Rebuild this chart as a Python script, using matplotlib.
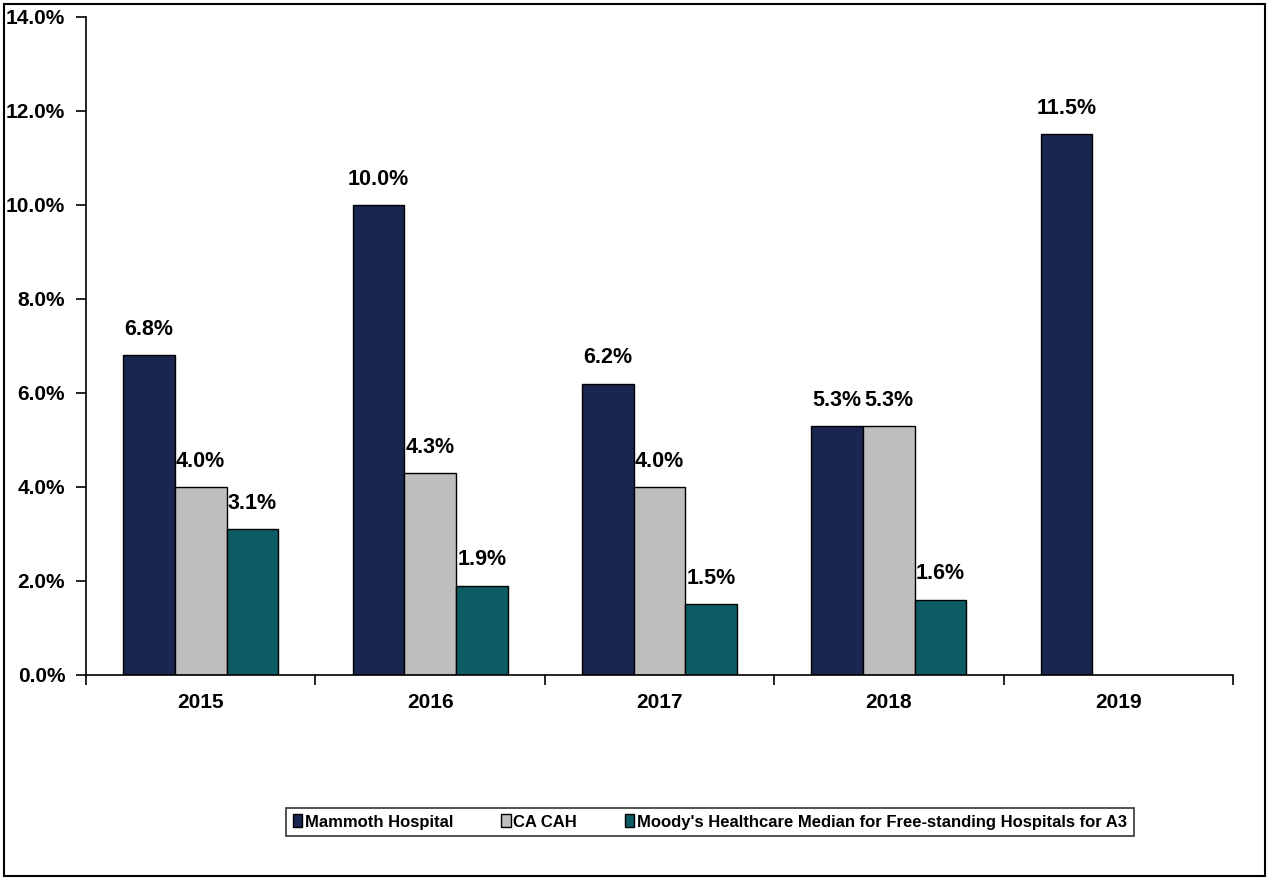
import numpy as np
import matplotlib.pyplot as plt
from matplotlib.patches import Rectangle

plt.rcParams['font.family'] = ['Liberation Sans', 'DejaVu Sans']
plt.rcParams['font.weight'] = 'bold'

# Data
jaren = ['2015', '2016', '2017', '2018', '2019']
reeks_namen = ['Mammoth Hospital', 'CA CAH',
               "Moody's Healthcare Median for Free-standing Hospitals for A3"]
mammoth = [6.8, 10.0, 6.2, 5.3, 11.5]
ca_cah = [4.0, 4.3, 4.0, 5.3, np.nan]
moodys = [3.1, 1.9, 1.5, 1.6, np.nan]
kleuren = ['#1a2550', '#bfbebc', '#0e5c63']

fig = plt.figure(figsize=(12.69, 8.8), dpi=100)
ax = fig.add_axes([0.0678, 0.233, 0.9038, 0.7477])

x = np.arange(len(jaren))
breedte = 0.225
for i, (naam, waarden, kleur) in enumerate(zip(reeks_namen, [mammoth, ca_cah, moodys], kleuren)):
    pos = x + (i - 1) * breedte
    ax.bar(pos, waarden, breedte, color=kleur, edgecolor='black', linewidth=1, label=naam)
    for p, v in zip(pos, waarden):
        if not np.isnan(v):
            ax.annotate(f'{v:.1f}%', (p, v), xytext=(0, 11), textcoords='offset points',
                        ha='center', va='bottom', fontsize=15.5, fontweight='bold')

ax.set_xlim(-0.5, len(jaren) - 0.5)
ax.set_ylim(0, 14)
ax.set_yticks(np.arange(0, 14.1, 2))
ax.set_yticklabels([f'{t:.1f}%' for t in np.arange(0, 14.1, 2)], fontsize=15, fontweight='bold')
ax.set_xticks(x)
ax.set_xticklabels(jaren, fontsize=15, fontweight='bold')
ax.tick_params(axis='x', length=0, pad=13)
ax.set_xticks(np.arange(-0.5, len(jaren)), minor=True)
ax.tick_params(axis='x', which='minor', length=7, width=1.2, direction='out')
ax.tick_params(axis='y', length=7, width=1.2, direction='out', pad=8)
ax.spines['top'].set_visible(False)
ax.spines['right'].set_visible(False)
ax.spines['left'].set_linewidth(1.2)
ax.spines['bottom'].set_linewidth(1.2)

leg = fig.legend(loc='center', bbox_to_anchor=(0.5595, 0.066), ncol=3, fontsize=12,
                 frameon=True, fancybox=False, edgecolor='black', handlelength=0.55,
                 handleheight=0.8, handletextpad=0.15, columnspacing=2.9, borderpad=0.4,
                 borderaxespad=0)
leg.get_frame().set_linewidth(1.2)
for t in leg.get_texts():
    t.set_fontweight('bold')

# rand om de hele figuur
fig.patches.append(Rectangle((0.003, 0.004), 0.994, 0.992, transform=fig.transFigure,
                             fill=False, edgecolor='black', linewidth=1.5))

fig.savefig('out.png', dpi=100)
